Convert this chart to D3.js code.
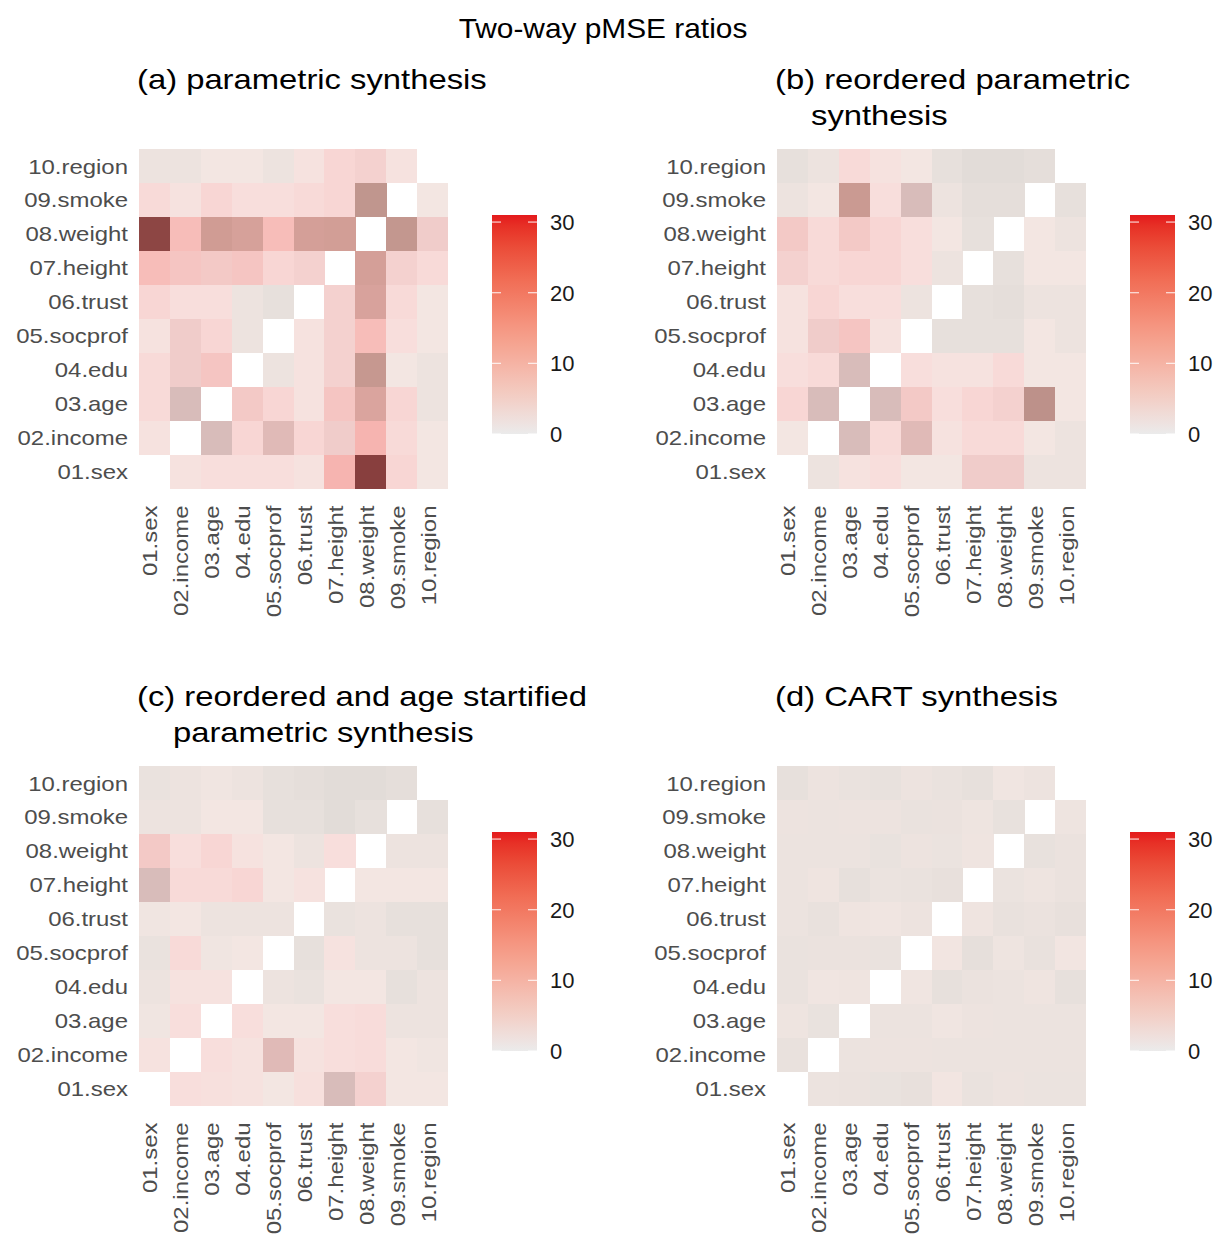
<!DOCTYPE html>
<html>
<head>
<meta charset="utf-8">
<script src="https://cdn.jsdelivr.net/npm/d3@7"></script>
<style>
  html, body { margin: 0; padding: 0; background: #ffffff; }
  svg { display: block; }
  text { font-family: "Liberation Sans", Arial, Helvetica, sans-serif; }
</style>
</head>
<body>
<svg id="chart" width="1215" height="1236"></svg>
<script>
// ---------------- data ----------------
const variables = ["01.sex","02.income","03.age","04.edu","05.socprof","06.trust","07.height","08.weight","09.smoke","10.region"];

const chartTitle = "Two-way pMSE ratios";
const panelTitles = [
  ["(a) parametric synthesis"],
  ["(b) reordered parametric", "synthesis"],
  ["(c) reordered and age startified", "parametric synthesis"],
  ["(d) CART synthesis"]
];

const legendTicks = [0, 10, 20, 30];
const legendMax = 31;

// rows listed top to bottom (10.region ... 01.sex), columns 01.sex ... 10.region
const ratiosA = [
  [2, 2, 3, 3, 2, 4, 7, 8, 4, null],
  [6, 4, 7, 5, 5, 6, 7, 30, null, 3],
  [65, 13, 25, 22, 13, 23, 24, null, 29, 9],
  [13, 11, 10, 11, 7, 8, null, 23, 8, 6],
  [7, 5, 5, 2, 1, null, 8, 21, 6, 3],
  [4, 9, 7, 2, null, 4, 8, 13, 5, 3],
  [6, 9, 11, null, 2, 4, 8, 28, 3, 2],
  [6, 17, null, 10, 7, 4, 11, 20, 7, 2],
  [4, null, 17, 7, 16.5, 7, 9, 15, 6, 3],
  [null, 4, 5, 5, 5, 4, 15, 68, 7, 3]
];
const ratiosB = [
  [1, 2, 6, 4, 3, 1, 0, 0, 0.5, null],
  [2, 3, 27, 5, 17, 2, 0.5, 0.5, null, 1],
  [10, 6, 10, 7, 5, 3, 1, null, 3, 2],
  [8, 6, 7, 7, 5, 2, null, 1, 3, 3],
  [4, 7, 5, 5, 2, null, 1, 0.5, 2, 2],
  [4, 9, 11, 4, null, 1, 1, 1, 3, 2],
  [5, 6, 17, null, 5, 4, 4, 6, 3, 3],
  [7, 17, null, 17, 10, 5, 7, 8, 32, 3],
  [3, null, 17, 6, 16.5, 4, 6, 6, 3, 2],
  [null, 2, 4, 5, 3, 3, 9, 9, 2, 2]
];
const ratiosC = [
  [1.5, 2, 2.5, 2, 1, 0.5, 0, 0, 0.5, null],
  [2, 2, 3, 3, 1, 1, 0, 1, null, 1],
  [10, 5, 7, 4, 3, 2, 5, null, 2, 2],
  [17, 6, 6, 7, 3, 4, null, 3, 3, 3],
  [2.5, 3, 2, 2, 2, null, 1.5, 2, 1, 1],
  [1.5, 6, 2.5, 3, null, 1, 4, 2, 2, 1],
  [2, 4, 4, null, 2, 1.5, 3, 3, 1, 2],
  [2.5, 5, null, 5, 3, 3, 5, 5.5, 2, 2],
  [4, null, 5, 4, 16.5, 4, 5, 5.5, 3, 2.5],
  [null, 5, 4.5, 4, 3, 4.5, 17, 8, 3, 3]
];
const ratiosD = [
  [1, 2, 1.5, 1.2, 2, 1.5, 1, 2.5, 2, null],
  [2, 1.8, 2, 2, 1.5, 1.6, 2.2, 1.2, null, 2.2],
  [1.8, 1.8, 1.8, 1.4, 2, 1.7, 2.3, null, 1.2, 1.6],
  [1.8, 2.3, 1, 1.7, 1.5, 1.1, null, 1.7, 2.1, 1.6],
  [1.8, 1.3, 2.3, 2.5, 2, null, 2.3, 1.3, 1.6, 1.1],
  [1.5, 1.6, 1.6, 1.5, null, 2.8, 0.8, 2.1, 1.3, 2.8],
  [1.5, 2.5, 2.3, null, 2.5, 0.9, 1.6, 1.9, 2.4, 0.9],
  [2.2, 1.4, null, 1.8, 1.8, 2.5, 2, 1.8, 1.8, 1.8],
  [1.3, null, 1.8, 2, 2, 1.8, 1.8, 1.8, 1.8, 1.8],
  [null, 1.8, 1.6, 1.4, 1.1, 2.8, 1.5, 2, 1.7, 1.7]
];
const panelData = [ratiosA, ratiosB, ratiosC, ratiosD];

// ---------------- scales ----------------
const cellColor = d3.scaleLinear()
  .domain([0, 1.5, 3, 5, 7, 9, 12, 15, 17, 20, 25, 30, 70])
  .range(["#E2DCD8", "#EAE2DE", "#F3E6E2", "#F8DEDC", "#F8D6D4", "#F0CCCA",
          "#F8C2BE", "#F6B4B0", "#D8BCBA", "#DAA49E", "#D09C94", "#C0968E", "#853A3A"])
  .interpolate(d3.interpolateLab)
  .clamp(true);

const legendColor = d3.scaleLinear()
  .domain([0, legendMax])
  .range(["#EBEBEB", "#E41A1C"])
  .interpolate(d3.interpolateLab);

const svg = d3.select("#chart");
const FONT_AXIS = 21, FONT_SUB = 28.5, FONT_TITLE = 28, FONT_LEG = 22;

function stretch(sel, k) {
  sel.each(function () {
    const w = this.getComputedTextLength();
    if (w > 0) d3.select(this).attr("textLength", w * k).attr("lengthAdjust", "spacingAndGlyphs");
  });
}

// main title
svg.append("text")
  .attr("x", 603).attr("y", 38)
  .attr("text-anchor", "middle")
  .attr("font-size", FONT_TITLE)
  .attr("fill", "#000")
  .text(chartTitle)
  .call(stretch, 1.066);

// gradient definition
const defs = svg.append("defs");
const grad = defs.append("linearGradient")
  .attr("id", "legGrad").attr("x1", 0).attr("y1", 1).attr("x2", 0).attr("y2", 0);
d3.range(0, 1.0001, 0.05).forEach(t => {
  grad.append("stop").attr("offset", t).attr("stop-color", legendColor(t * legendMax));
});

const panelOrigins = [
  {x: 139, y: 149}, {x: 777, y: 149},
  {x: 139, y: 766}, {x: 777, y: 766}
];
const gridW = 309, gridH = 339.5;

panelData.forEach((rows, p) => {
  const o = panelOrigins[p];
  const g = svg.append("g");

  const x = d3.scaleBand().domain(variables).range([o.x, o.x + gridW]).padding(0);
  const y = d3.scaleBand().domain(variables.slice().reverse()).range([o.y, o.y + gridH]).padding(0);
  const yOrder = variables.slice().reverse();

  const cells = [];
  rows.forEach((row, i) => {
    row.forEach((v, j) => {
      if (v !== null) cells.push({yv: yOrder[i], xv: variables[j], v: v});
    });
  });

  g.selectAll("rect.cell").data(cells).enter().append("rect")
    .attr("class", "cell")
    .attr("x", d => x(d.xv))
    .attr("y", d => y(d.yv))
    .attr("width", x.bandwidth() + 0.3)
    .attr("height", y.bandwidth() + 0.3)
    .attr("fill", d => cellColor(d.v))
    .attr("shape-rendering", "crispEdges");

  // y axis labels
  g.selectAll("text.ylab").data(variables).enter().append("text")
    .attr("class", "ylab")
    .attr("x", o.x - 11)
    .attr("y", d => y(d) + y.bandwidth() / 2)
    .attr("dy", "0.36em")
    .attr("text-anchor", "end")
    .attr("font-size", FONT_AXIS)
    .attr("fill", "#4D4D4D")
    .text(d => d)
    .call(stretch, 1.14);

  // x axis labels (rotated)
  const xLabY = o.y + gridH + 17;
  g.selectAll("text.xlab").data(variables).enter().append("text")
    .attr("class", "xlab")
    .attr("transform", d => `translate(${x(d) + x.bandwidth() / 2 + 3},${xLabY}) rotate(-90)`)
    .attr("text-anchor", "end")
    .attr("font-size", FONT_AXIS)
    .attr("fill", "#4D4D4D")
    .text(d => d)
    .call(stretch, 1.14);

  // panel title
  const tLines = panelTitles[p];
  tLines.forEach((line, k) => {
    g.append("text")
      .attr("x", o.x - 2 + (k > 0 ? 36 : 0))
      .attr("y", o.y - 60 + k * 36)
      .attr("font-size", FONT_SUB)
      .attr("fill", "#000")
      .text(line)
      .call(stretch, 1.15);
  });

  // legend
  const lx = o.x + 353, lTop = o.y + 66, lBot = o.y + 285;
  const ly = d3.scaleLinear().domain([0, legendMax]).range([lBot, lTop]);
  g.append("rect")
    .attr("x", lx).attr("y", lTop)
    .attr("width", 45).attr("height", lBot - lTop)
    .attr("fill", "url(#legGrad)");
  legendTicks.forEach(tv => {
    const yy = ly(tv);
    g.append("line").attr("x1", lx).attr("x2", lx + 9).attr("y1", yy).attr("y2", yy)
      .attr("stroke", "#ffffff").attr("stroke-width", 1.2).attr("stroke-opacity", 0.8);
    g.append("line").attr("x1", lx + 36).attr("x2", lx + 45).attr("y1", yy).attr("y2", yy)
      .attr("stroke", "#ffffff").attr("stroke-width", 1.2).attr("stroke-opacity", 0.8);
  });
  g.selectAll("text.leg").data(legendTicks).enter().append("text")
    .attr("class", "leg")
    .attr("x", lx + 58)
    .attr("y", d => ly(d))
    .attr("dy", "0.36em")
    .attr("font-size", FONT_LEG)
    .attr("fill", "#1A1A1A")
    .text(d => d);
});
</script>
</body>
</html>
